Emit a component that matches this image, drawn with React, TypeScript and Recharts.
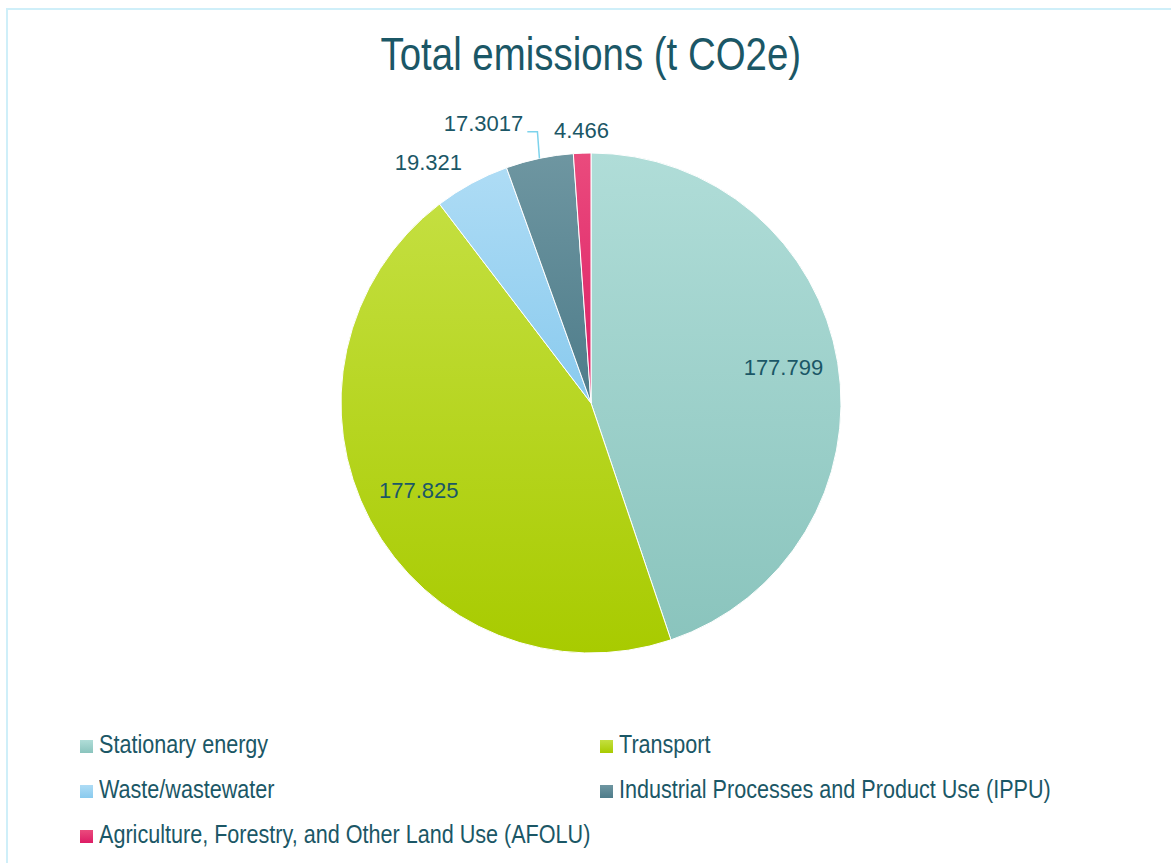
import React from 'react';
import { PieChart, Pie, Cell, Legend } from 'recharts';

const categories = [
  'Stationary energy',
  'Transport',
  'Waste/wastewater',
  'Industrial Processes and Product Use (IPPU)',
  'Agriculture, Forestry, and Other Land Use (AFOLU)',
];
const emissions = [177.799, 177.825, 19.321, 17.3017, 4.466];
const valueLabels = ['177.799', '177.825', '19.321', '17.3017', '4.466'];
const topColors = ['#b0ddd8', '#c4df40', '#aedcf5', '#6e96a1', '#ea4b7d'];
const bottomColors = ['#8ac4bd', '#a8cb00', '#89caee', '#4e7c8a', '#dd1d65'];
const labelModes = ['inside', 'inside', 'outside', 'leader', 'outside'];

const data = categories.map((name, i) => ({ name, value: emissions[i] }));

const TEXT = '#1b5766';
const SANS = '"Liberation Sans", Arial, sans-serif';
const RAD = Math.PI / 180;

// the original uses a narrow face; squeeze Liberation Sans to get close
const narrow = (scale: number): React.CSSProperties => ({
  display: 'inline-block',
  transform: `scaleX(${scale})`,
  fontFamily: SANS,
});

const renderLabel = (props: any) => {
  const { cx, cy, midAngle, outerRadius, index } = props;
  const mode = labelModes[index];
  const pt = (r: number) => ({
    x: cx + r * Math.cos(-midAngle * RAD),
    y: cy + r * Math.sin(-midAngle * RAD),
  });
  const style = { fontFamily: SANS, fontSize: 22, fill: TEXT };

  if (mode === 'inside') {
    const p = pt(outerRadius * 0.78);
    return (
      <text x={p.x} y={p.y - 4} textAnchor="middle" dominantBaseline="central" style={style}>
        {valueLabels[index]}
      </text>
    );
  }
  const p = pt(outerRadius + 20);
  if (mode === 'leader') {
    const arc = pt(outerRadius);
    const tx = p.x - 12;
    const ty = p.y - 15;
    return (
      <g>
        <polyline
          points={`${arc.x},${arc.y} ${arc.x - 2},${ty + 8} ${tx + 4},${ty + 8}`}
          fill="none"
          stroke="#7dd3ec"
          strokeWidth={1.5}
        />
        <text x={tx} y={ty} textAnchor="end" dominantBaseline="central" style={style}>
          {valueLabels[index]}
        </text>
      </g>
    );
  }
  const c = Math.cos(-midAngle * RAD);
  const anchor = Math.abs(c) < 0.1 ? 'middle' : c > 0 ? 'start' : 'end';
  return (
    <text x={p.x} y={p.y - 3} textAnchor={anchor} dominantBaseline="central" style={style}>
      {valueLabels[index]}
    </text>
  );
};

const renderLegend = () => (
  <div style={{ position: 'relative', width: 1000, height: 140, fontFamily: SANS, fontSize: 26, color: TEXT }}>
    {categories.map((name, i) => (
      <div
        key={name}
        style={{
          position: 'absolute',
          left: (i % 2) * 520,
          top: Math.floor(i / 2) * 45,
          height: 30,
          display: 'flex',
          alignItems: 'center',
          whiteSpace: 'nowrap',
        }}
      >
        <span
          style={{
            display: 'inline-block',
            width: 13,
            height: 13,
            marginRight: 6,
            marginTop: 4,
            background: `linear-gradient(${topColors[i]}, ${bottomColors[i]})`,
          }}
        />
        <span style={{ ...narrow(0.83), transformOrigin: 'left center' }}>{name}</span>
      </div>
    ))}
  </div>
);

export default function App() {
  return (
    <div style={{ position: 'absolute', left: 0, top: 0, width: 1171, height: 863, overflow: 'hidden', background: '#fff' }}>
      <div
        style={{
          position: 'absolute',
          left: 6,
          top: 8,
          width: 1220,
          height: 900,
          border: '2px solid #cfeff9',
        }}
      />
      <div
        style={{
          position: 'absolute',
          left: 0,
          top: 24,
          width: 1181,
          textAlign: 'center',
          fontSize: 46,
          color: TEXT,
          lineHeight: '60px',
        }}
      >
        <span style={{ ...narrow(0.835), transformOrigin: 'center center' }}>Total emissions (t CO2e)</span>
      </div>
      <div style={{ position: 'absolute', left: 0, top: 0 }}>
        <PieChart width={1171} height={863} margin={{ top: 0, right: 0, bottom: 0, left: 0 }}>
          <defs>
            {categories.map((_, i) => (
              <linearGradient key={i} id={`grad${i}`} x1="0" y1="0" x2="0" y2="1">
                <stop offset="0%" stopColor={topColors[i]} />
                <stop offset="100%" stopColor={bottomColors[i]} />
              </linearGradient>
            ))}
          </defs>
          <Pie
            data={data}
            dataKey="value"
            nameKey="name"
            cx={591}
            cy={403}
            outerRadius={250}
            startAngle={90}
            endAngle={-270}
            stroke="#ffffff"
            strokeWidth={1}
            label={renderLabel}
            labelLine={false}
            isAnimationActive={false}
          >
            {data.map((_, i) => (
              <Cell key={i} fill={`url(#grad${i})`} />
            ))}
          </Pie>
          <Legend
            content={renderLegend}
            wrapperStyle={{ position: 'absolute', left: 80, top: 729, width: 1000 }}
          />
        </PieChart>
      </div>
    </div>
  );
}
